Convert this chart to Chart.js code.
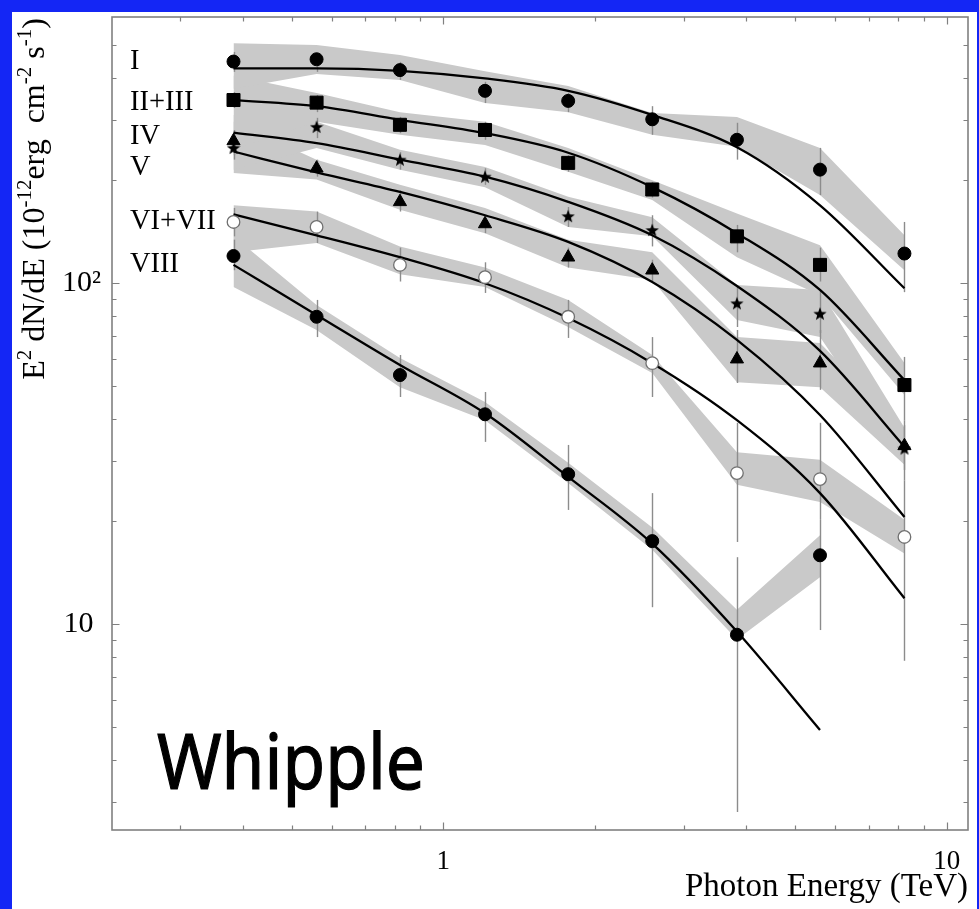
<!DOCTYPE html>
<html>
<head>
<meta charset="utf-8">
<script src="https://cdn.jsdelivr.net/npm/chart.js@4/dist/chart.umd.min.js"></script>
<style>
  html, body { margin: 0; padding: 0; background: #1426f5; }
  canvas { display: block; }
</style>
</head>
<body>
<canvas id="c" width="979" height="909"></canvas>
<script>
// Photon energy of each spectral bin (TeV)
const energies = [0.383, 0.560, 0.820, 1.21, 1.77, 2.60, 3.83, 5.60, 8.24];

const seriesNames = ['I', 'II+III', 'IV', 'V', 'VI+VII', 'VIII'];

// Measured E^2 dN/dE (1e-12 erg cm^-2 s^-1)
const fluxI     = [446, 453, 421, 366, 342, 302, 263, 215, 122];
const fluxII_III = [344, 338, 291, 281, 225, 188, 137, 113, 50.2];
const fluxIV    = [249, 287, 230, 205, 157, 143, 87.2, 81.3, 32.7];
const fluxV     = [261, 217, 173, 149, 119, 109, 59.8, 58.2, 33.3];
const fluxVI_VII = [151, 146, 113, 104, 79.6, 58.2, 27.7, 26.6, 18.0];
const fluxVIII  = [120, 79.6, 53.7, 41.2, 27.5, 17.5, 9.3, 15.9, null];

// Statistical error bars: upper and lower ends
const errHiI     = [476, 473, 445, 389, 361, 330, 295, 249, 151];
const errLoI     = [416, 416, 394, 337, 317, 272, 230, 181, 94];
const errHiII_III = [363, 356, 307, 297, 237, 198, 148, 127, 60.7];
const errLoII_III = [326, 317, 275, 263, 212, 178, 123, 101, 39.6];
const errHiIV    = [281, 305, 242, 217, 167, 158, 97.3, 95.4, 39.6];
const errLoIV    = [230, 266, 215, 194, 146, 128, 74.3, 71.3, 26.4];
const errHiV     = [277, 230, 187, 158, 127, 117, 72.8, 72.8, 38.3];
const errLoV     = [237, 205, 162, 140, 111, 101, 50.9, 48.6, 28.3];
const errHiVI_VII = [166, 162, 127, 115, 89.2, 69.4, 38.9, 38.9, 26.4];
const errLoVI_VII = [137, 131, 101, 93.5, 69.0, 46.3, 17.4, 20.2, 7.8];
const errHiVIII  = [134, 89.2, 61.5, 47.9, 33.5, 24.2, 15.7, 20.2, null];
const errLoVIII  = [109, 69.4, 46.3, 34.2, 21.6, 11.2, 2.81, 9.6, null];

// Fitted spectral shapes, sampled at the bin energies
const fitI      = [426, 426, 419, 398, 366, 311, 250, 169, 96.5];
const fitII_III = [344, 330, 301, 275, 241, 191, 140, 95.4, 51.9];
const fitIV     = [276, 257, 230, 205, 173, 138, 98.0, 63.2, 33.1];
const fitV      = [243, 211, 185, 158, 132, 100.7, 68.1, 41.0, 20.6];
const fitVI_VII = [159, 138, 119, 99.8, 78.9, 58.2, 39.6, 24.2, 11.9];
const fitVIII   = [113, 80.6, 57.5, 41.5, 27.0, 17.2, 9.5, 4.89, null];

// Systematic-uncertainty bands: upper and lower edges
const bandHiI      = [505, 499, 466, 418, 378, 315, 307, 249, 138];
const bandLoI      = [371, 410, 394, 337, 317, 272, 251, 181, 109];
const bandHiII_III = [405, 361, 317, 297, 249, 200, 160, 129, 58.3];
const bandLoII_III = [246, 297, 272, 254, 212, 175, 119, 92, 46.9];
const bandHiIV     = [311, 297, 246, 219, 179, 156, 98.6, 95.4, 37.6];
const bandLoIV     = [215, 249, 215, 191, 146, 137, 77.9, 69.4, 29.9];
const bandHiV      = [297, 230, 194, 166, 134, 123, 69.4, 66.7, 37.1];
const bandLoV      = [210, 201, 164, 140, 111, 102, 51.2, 49.5, 29.3];
const bandHiVI_VII = [169, 162, 128, 111, 89.2, 61.5, 31.9, 30.3, 20.2];
const bandLoVI_VII = [123, 131, 106, 97.3, 74.3, 54.5, 25.6, 22.8, 16.1];
const bandHiVIII   = [137, 86.2, 60.3, 44.8, 29.7, 19.2, 11.0, 18.2, null];
const bandLoVIII   = [97.3, 72.8, 49.5, 39.6, 25.9, 16.5, 9.0, 13.7, null];

// Axis tick labels
const xTickValues = [1, 10];
const xTickText   = ['1', '10'];
const yTickValues = [10, 100];
const yTickText   = ['10\u2005', '10\u00B2'];
const xMinorTicks = [0.3, 0.4, 0.5, 0.6, 0.7, 0.8, 0.9, 2, 3, 4, 5, 6, 7, 8, 9];
const yMinorTicks = [3, 4, 5, 6, 7, 8, 9, 20, 30, 40, 50, 60, 70, 80, 90, 200, 300, 400, 500];

const xTitle = 'Photon Energy (TeV)';
const stampText = 'Whipple';

const series = [
  { flux: fluxI,      hi: errHiI,      lo: errLoI,      fit: fitI,      bHi: bandHiI,      bLo: bandLoI },
  { flux: fluxII_III, hi: errHiII_III, lo: errLoII_III, fit: fitII_III, bHi: bandHiII_III, bLo: bandLoII_III },
  { flux: fluxIV,     hi: errHiIV,     lo: errLoIV,     fit: fitIV,     bHi: bandHiIV,     bLo: bandLoIV },
  { flux: fluxV,      hi: errHiV,      lo: errLoV,      fit: fitV,      bHi: bandHiV,      bLo: bandLoV },
  { flux: fluxVI_VII, hi: errHiVI_VII, lo: errLoVI_VII, fit: fitVI_VII, bHi: bandHiVI_VII, bLo: bandLoVI_VII },
  { flux: fluxVIII,   hi: errHiVIII,   lo: errLoVIII,   fit: fitVIII,   bHi: bandHiVIII,   bLo: bandLoVIII }
];

// ---- styling ----
const SERIF = '"Liberation Serif", "Times New Roman", serif';
const BAND_GREY = '#c9c9c9';
const ERR_GREY = '#8c8c8c';
const FRAME_GREY = '#808080';

function makeStar(size) {
  const c = document.createElement('canvas');
  c.width = size; c.height = size;
  const g = c.getContext('2d');
  const cx = size / 2, cy = size / 2 + 0.6, R = size / 2, r = R * 0.42;
  g.beginPath();
  for (let k = 0; k < 10; k++) {
    const a = -Math.PI / 2 + k * Math.PI / 5;
    const rr = (k % 2) ? r : R;
    g.lineTo(cx + rr * Math.cos(a), cy + rr * Math.sin(a));
  }
  g.closePath();
  g.fillStyle = '#000';
  g.fill();
  return c;
}

const markerStyles = [
  { style: 'circle',     radius: 6.5, bg: '#000', border: '#000', bw: 1 },
  { style: 'rect',       radius: 9.2, bg: '#000', border: '#000', bw: 1 },
  { style: makeStar(14), radius: 7,   bg: '#000', border: '#000', bw: 1 },
  { style: 'triangle',   radius: 7.6, bg: '#000', border: '#000', bw: 1 },
  { style: 'circle',     radius: 6.3, bg: '#fff', border: '#707070', bw: 1.3 },
  { style: 'circle',     radius: 6.5, bg: '#000', border: '#000', bw: 1 }
];

// series label placement inside the plot (px)
const LABEL_X = 130;
const LABEL_Y = [62, 103, 137, 168, 222, 265];

const toXY = vals => vals.map((v, i) => (v == null ? null : { x: energies[i], y: v })).filter(Boolean);

const datasets = [];
series.forEach(s => {
  datasets.push({ data: toXY(s.bHi), fill: false, borderWidth: 0, borderColor: 'rgba(0,0,0,0)', pointRadius: 0, tension: 0, order: 30 });
  datasets.push({ data: toXY(s.bLo), fill: '-1', backgroundColor: BAND_GREY, borderWidth: 0, borderColor: 'rgba(0,0,0,0)', pointRadius: 0, tension: 0, order: 30 });
});
series.forEach(s => {
  datasets.push({ data: toXY(s.fit), fill: false, borderColor: '#000', borderWidth: 2.3, pointRadius: 0, cubicInterpolationMode: 'monotone', order: 20 });
});
series.forEach((s, k) => {
  const m = markerStyles[k];
  datasets.push({ data: toXY(s.flux), showLine: false, fill: false, pointStyle: m.style, pointRadius: m.radius,
    pointBackgroundColor: m.bg, pointBorderColor: m.border, pointBorderWidth: m.bw, order: 10 });
});

function measureRich(ctx, parts, size, supSize) {
  let w = 0;
  parts.forEach(([t, sup]) => { ctx.font = (sup ? supSize : size) + 'px ' + SERIF; w += ctx.measureText(t).width; });
  return w;
}

const yTitleParts = [['E', 0], ['2', 1], [' dN/dE (10', 0], ['-12', 1], ['erg  cm', 0], ['-2', 1], [' s', 0], ['-1', 1], [')', 0]];

const plotDecor = {
  id: 'plotDecor',
  beforeDraw(chart) {
    const ctx = chart.ctx;
    ctx.save();
    ctx.fillStyle = '#1426f5';
    ctx.fillRect(0, 0, chart.width, chart.height);
    ctx.fillStyle = '#ffffff';
    ctx.fillRect(12, 12, chart.width - 14, chart.height - 12);
    ctx.restore();
  },
  beforeDatasetsDraw(chart) {
    const { ctx, scales: { x, y } } = chart;
    ctx.save();
    ctx.strokeStyle = ERR_GREY;
    ctx.lineWidth = 1.4;
    series.forEach(s => {
      s.hi.forEach((h, i) => {
        if (h == null || s.lo[i] == null) return;
        const px = Math.round(x.getPixelForValue(energies[i])) + 0.5;
        ctx.beginPath();
        ctx.moveTo(px, y.getPixelForValue(h));
        ctx.lineTo(px, y.getPixelForValue(s.lo[i]));
        ctx.stroke();
      });
    });
    ctx.restore();
  },
  afterDatasetsDraw(chart) {
    const { ctx, chartArea: a, scales: { x, y } } = chart;
    ctx.save();
    // frame
    ctx.strokeStyle = FRAME_GREY;
    ctx.lineWidth = 1.6;
    ctx.strokeRect(a.left, a.top, a.right - a.left, a.bottom - a.top);
    // inward ticks on all four sides
    ctx.lineWidth = 1.2;
    const xt = (v, len) => {
      const p = Math.round(x.getPixelForValue(v)) + 0.5;
      ctx.beginPath();
      ctx.moveTo(p, a.bottom); ctx.lineTo(p, a.bottom - len);
      ctx.moveTo(p, a.top); ctx.lineTo(p, a.top + len);
      ctx.stroke();
    };
    const yt = (v, len) => {
      const p = Math.round(y.getPixelForValue(v)) + 0.5;
      ctx.beginPath();
      ctx.moveTo(a.left, p); ctx.lineTo(a.left + len, p);
      ctx.moveTo(a.right, p); ctx.lineTo(a.right - len, p);
      ctx.stroke();
    };
    xMinorTicks.forEach(v => xt(v, 4.5));
    xTickValues.forEach(v => xt(v, 7.5));
    yMinorTicks.forEach(v => yt(v, 4.5));
    yTickValues.forEach(v => yt(v, 7.5));

    // series labels
    ctx.fillStyle = '#000';
    ctx.font = '28.5px ' + SERIF;
    ctx.textAlign = 'left';
    ctx.textBaseline = 'middle';
    seriesNames.forEach((n, k) => ctx.fillText(n, LABEL_X, LABEL_Y[k]));

    // rotated y-axis title with superscripts
    const size = 32, supSize = 21, raise = 13;
    const total = measureRich(ctx, yTitleParts, size, supSize);
    ctx.save();
    ctx.translate(44, 199 + total / 2);
    ctx.rotate(-Math.PI / 2);
    ctx.textBaseline = 'alphabetic';
    let cx = 0;
    yTitleParts.forEach(([t, sup]) => {
      ctx.font = (sup ? supSize : size) + 'px ' + SERIF;
      ctx.fillText(t, cx, sup ? -raise : 0);
      cx += ctx.measureText(t).width;
    });
    ctx.restore();

    // instrument stamp
    ctx.save();
    ctx.font = '76px "Comic Sans MS", "Noto Sans", sans-serif';
    ctx.textBaseline = 'alphabetic';
    ctx.strokeStyle = '#000';
    ctx.lineWidth = 1.2;
    const w = ctx.measureText(stampText).width;
    ctx.translate(157, 789);
    ctx.scale(268 / w, 1);
    ctx.fillText(stampText, 0, 0);
    ctx.strokeText(stampText, 0, 0);
    ctx.restore();

    ctx.restore();
  }
};

new Chart(document.getElementById('c'), {
  type: 'line',
  data: { datasets },
  options: {
    responsive: false,
    devicePixelRatio: 1,
    animation: false,
    events: [],
    layout: { padding: { left: 12, top: 17, right: 11, bottom: 0 } },
    plugins: {
      legend: { display: false },
      tooltip: { enabled: false },
      filler: { drawTime: 'beforeDatasetsDraw', propagate: false }
    },
    scales: {
      x: {
        type: 'logarithmic',
        min: 0.2197,
        max: 11.02,
        grid: { display: false, drawTicks: false },
        border: { display: false },
        afterBuildTicks(s) { s.ticks = xTickValues.map(v => ({ value: v })); },
        afterFit(s) { s.height = 79; s.paddingLeft = 0; s.paddingRight = 0; s.paddingTop = 0; s.paddingBottom = 0; },
        ticks: {
          autoSkip: false, maxRotation: 0, padding: 18, color: '#000',
          font: { family: SERIF, size: 27, lineHeight: 1 },
          callback: v => xTickText[xTickValues.indexOf(v)] ?? ''
        },
        title: {
          display: true, text: xTitle, align: 'end', color: '#000',
          font: { family: SERIF, size: 33, lineHeight: 1 },
          padding: { top: 0, bottom: 5 }
        }
      },
      y: {
        type: 'logarithmic',
        min: 2.488,
        max: 602.6,
        grid: { display: false, drawTicks: false },
        border: { display: false },
        afterBuildTicks(s) { s.ticks = yTickValues.map(v => ({ value: v })); },
        afterFit(s) { s.width = 100; s.paddingLeft = 0; s.paddingRight = 0; s.paddingTop = 0; s.paddingBottom = 0; },
        ticks: {
          autoSkip: false, padding: 11, color: '#000',
          font: { family: SERIF, size: 30, lineHeight: 1 },
          callback: v => yTickText[yTickValues.indexOf(v)] ?? ''
        }
      }
    }
  },
  plugins: [plotDecor]
});
</script>
</body>
</html>
